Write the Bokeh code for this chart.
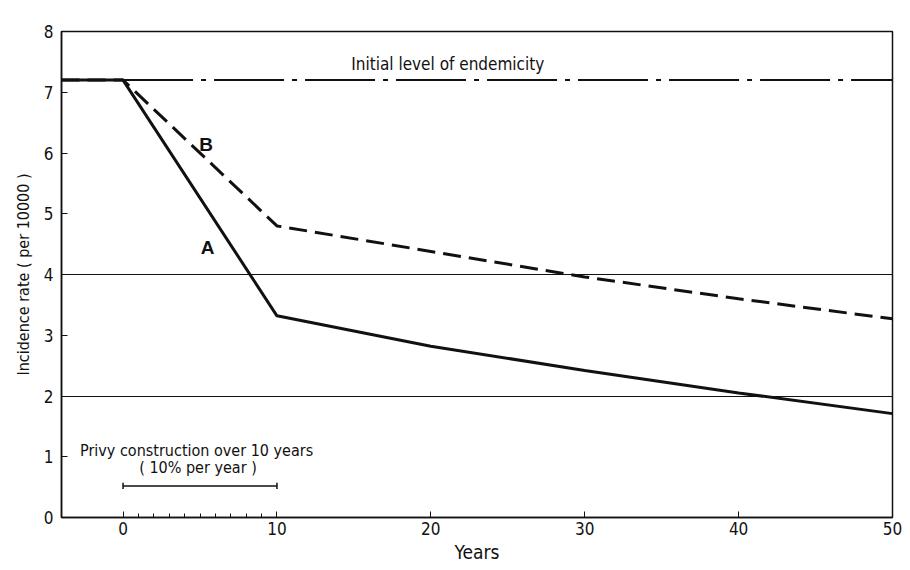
from bokeh.plotting import figure
from bokeh.models import FixedTicker, Label
from bokeh.embed import file_html
from bokeh.resources import INLINE

# ---- data ----
years = [-4, 0, 10, 20, 30, 40, 50]
curve_a = [7.2, 7.2, 3.32, 2.82, 2.42, 2.05, 1.71]
curve_b = [7.2, 7.2, 4.80, 4.38, 3.96, 3.60, 3.27]
endemic_years = [0, 50]
endemic_level = 7.2
reference_levels = [4, 2]
privy_start, privy_end = 0, 10
privy_y = 0.52
x_major = [0, 10, 20, 30, 40, 50]
x_minor = [1, 2, 3, 4, 5, 6, 7, 8, 9]
y_major = [0, 1, 2, 3, 4, 5, 6, 7, 8]

FONT = "'Liberation Sans Narrow', 'DejaVu Sans Condensed', sans-serif"
INK = "#111111"

p = figure(width=910, height=570, x_range=(-4, 50), y_range=(0, 8),
           output_backend="svg", toolbar_location=None,
           min_border_left=61, min_border_right=18,
           min_border_top=31, min_border_bottom=53)

p.background_fill_color = "white"
p.border_fill_color = "white"
p.outline_line_color = INK
p.outline_line_width = 1.5
p.xgrid.visible = False
p.ygrid.visible = False

# axes
p.xaxis.ticker = FixedTicker(ticks=x_major, minor_ticks=x_minor)
p.yaxis.ticker = FixedTicker(ticks=y_major)
for ax in (p.xaxis, p.yaxis):
    ax.axis_line_color = INK
    ax.axis_line_width = 1.5
    ax.major_tick_line_color = INK
    ax.minor_tick_line_color = INK
    ax.major_tick_out = 0
    ax.major_tick_in = 6
    ax.minor_tick_out = 0
    ax.minor_tick_in = 4
    ax.major_label_text_font = FONT
    ax.major_label_text_font_size = "17px"
    ax.major_label_text_color = INK
    ax.axis_label_text_font = FONT
    ax.axis_label_text_font_style = "normal"
    ax.axis_label_text_color = INK
p.yaxis.minor_tick_line_color = None
p.xaxis.major_label_standoff = 4
p.yaxis.major_label_standoff = 8
p.xaxis.axis_label = "Years"
p.xaxis.axis_label_text_font_size = "19px"
p.xaxis.axis_label_standoff = 3
p.yaxis.axis_label = "Incidence rate ( per 10000 )"
p.yaxis.axis_label_text_font_size = "16px"
p.yaxis.axis_label_standoff = 8

# reference levels
p.hspan(y=reference_levels, line_color=INK, line_width=1)

# initial level of endemicity
p.line(endemic_years, [endemic_level] * len(endemic_years),
       line_color=INK, line_width=2, line_dash="70 8 5 8")

# curves
p.line(years, curve_b, line_color=INK, line_width=3, line_dash="18 8")
p.line(years, curve_a, line_color=INK, line_width=3)

# privy construction bracket
p.segment(x0=[privy_start], y0=[privy_y], x1=[privy_end], y1=[privy_y],
          line_color=INK, line_width=1.5)
p.segment(x0=[privy_start, privy_end], y0=[privy_y - 0.05, privy_y - 0.05],
          x1=[privy_start, privy_end], y1=[privy_y + 0.05, privy_y + 0.05],
          line_color=INK, line_width=1.5)

def lab(x, y, t, size="16px", style="normal", font=FONT, color=INK, align="center"):
    p.add_layout(Label(x=x, y=y, text=t, text_align=align, text_baseline="middle",
                       text_font=font, text_font_size=size, text_font_style=style,
                       text_color=color))

lab(21.1, 7.46, "Initial level of endemicity", size="17px")
lab(4.78, 1.10, "Privy construction over 10 years", size="16px")
lab(4.87, 0.82, "( 10% per year )", size="16px")
lab(5.4, 6.14, "B", size="19px", style="bold", font="'Liberation Sans', Arial, sans-serif")
lab(5.5, 4.44, "A", size="19px", style="bold", font="'Liberation Sans', Arial, sans-serif")

open("out.html", "w").write(file_html(p, INLINE))
